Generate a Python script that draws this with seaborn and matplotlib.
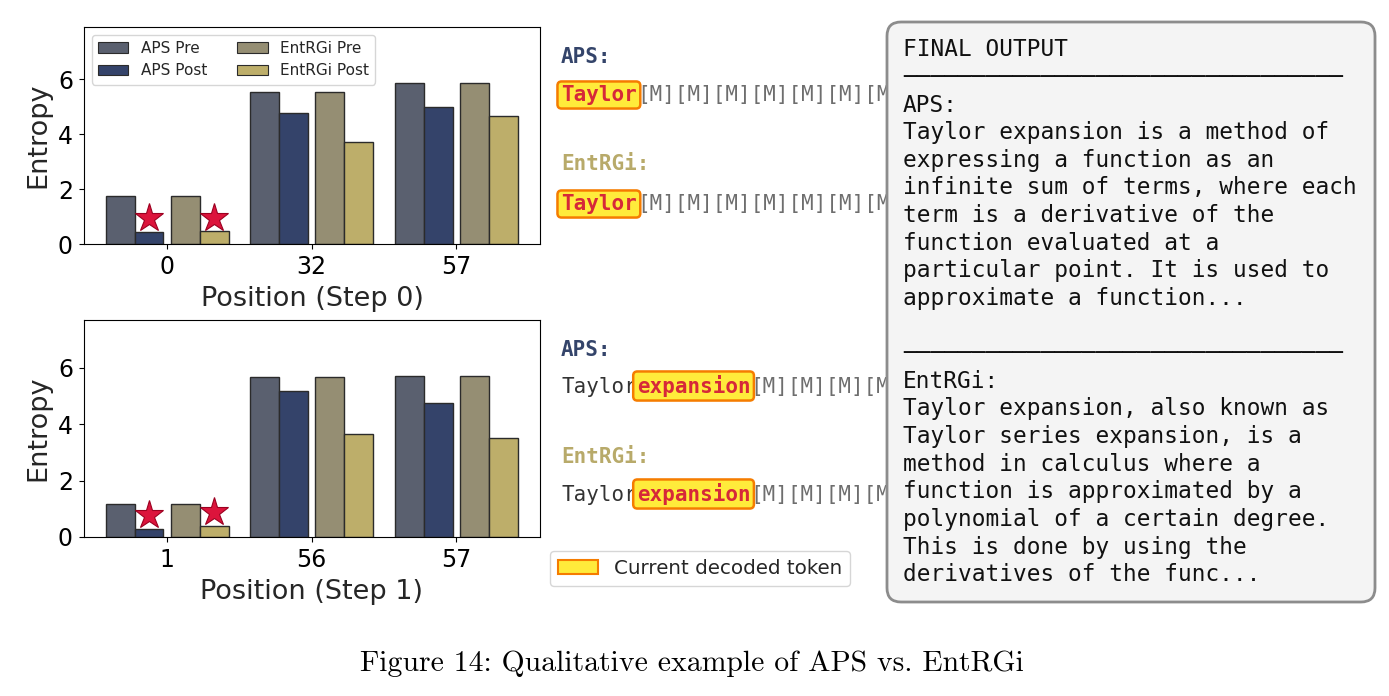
import numpy as np
import pandas as pd
import matplotlib
matplotlib.use("Agg")
import matplotlib.pyplot as plt
import seaborn as sns
from matplotlib.patches import Patch, FancyBboxPatch

# ---------------- data ----------------
series = ["APS Pre", "APS Post", "EntRGi Pre", "EntRGi Post"]

step0_positions = ["0", "32", "57"]
step0_aps_pre = [1.75, 5.52, 5.85]
step0_aps_post = [0.43, 4.78, 4.98]
step0_ent_pre = [1.75, 5.52, 5.85]
step0_ent_post = [0.46, 3.72, 4.67]

step1_positions = ["1", "56", "57"]
step1_aps_pre = [1.17, 5.66, 5.69]
step1_aps_post = [0.27, 5.18, 4.76]
step1_ent_pre = [1.17, 5.66, 5.69]
step1_ent_post = [0.40, 3.63, 3.49]

decoded_group = 0  # position decoded at each step (starred)

step0_decoded = "Taylor"
step1_prefix = "Taylor"
step1_decoded = "expansion"
mask_token = "[M]"
step0_masks_shown = 7
step1_masks_shown = 4

aps_final_lines = [
    "Taylor expansion is a method of",
    "expressing a function as an",
    "infinite sum of terms, where each",
    "term is a derivative of the",
    "function evaluated at a",
    "particular point. It is used to",
    "approximate a function...",
]
entrgi_final_lines = [
    "Taylor expansion, also known as",
    "Taylor series expansion, is a",
    "method in calculus where a",
    "function is approximated by a",
    "polynomial of a certain degree.",
    "This is done by using the",
    "derivatives of the func...",
]
caption = "Figure 14: Qualitative example of APS vs. EntRGi"

# ---------------- style ----------------
sns.set_style("ticks", {"axes.edgecolor": "black", "xtick.color": "black",
                        "ytick.color": "black", "xtick.major.size": 4,
                        "ytick.major.size": 4, "axes.linewidth": 1.0})
plt.rcParams["font.family"] = ["DejaVu Sans"]

colors = {"APS Pre": "#5a606f", "APS Post": "#34436a",
          "EntRGi Pre": "#958e73", "EntRGi Post": "#bdae6a"}
offsets = [-0.325, -0.125, 0.125, 0.325]
edge = "#2b2b2b"

W, H = 1389, 696
fig = plt.figure(figsize=(W / 100, H / 100), dpi=100)


def axes_px(l, t, r, b):
    return fig.add_axes([l / W, 1 - b / H, (r - l) / W, (b - t) / H])


def draw_panel(ax, labels, vals_list, xlabel):
    base = np.arange(len(labels))
    for name, vals, off in zip(series, vals_list, offsets):
        sns.barplot(x=base + off, y=vals, native_scale=True, width=0.2,
                    color=colors[name], saturation=1, edgecolor=edge,
                    linewidth=1.0, errorbar=None, ax=ax)
    # stars above the post-remask bars of the decoded position
    for idx in (1, 3):
        ax.plot(base[decoded_group] + offsets[idx], vals_list[idx][decoded_group] + 0.5,
                marker="*", ms=21, color="#dc143c", mec="#9b0020", mew=0.8,
                linestyle="none", zorder=5)
    allv = np.concatenate([np.asarray(v) for v in vals_list])
    ax.set_ylim(0, allv.max() * 1.35)
    ax.set_xlim(-0.575, 2.58)
    ax.set_xticks(base)
    ax.set_xticklabels(labels)
    ax.set_yticks([0, 2, 4, 6])
    ax.tick_params(labelsize=17, pad=4.5)
    ax.set_xlabel(xlabel, fontsize=19.5, labelpad=5)
    ax.set_ylabel("Entropy", fontsize=19.5, labelpad=5)
    for s in ax.spines.values():
        s.set_visible(True)


ax1 = axes_px(84, 27, 540, 244)
draw_panel(ax1, step0_positions,
           [step0_aps_pre, step0_aps_post, step0_ent_pre, step0_ent_post],
           "Position (Step 0)")
handles = [Patch(facecolor=colors[n], edgecolor=edge, linewidth=0.8, label=n) for n in series]
ax1.legend(handles=handles, loc="upper left", ncol=2, fontsize=11,
           frameon=True, framealpha=0.8)

ax2 = axes_px(84, 320, 540, 537)
draw_panel(ax2, step1_positions,
           [step1_aps_pre, step1_aps_post, step1_ent_pre, step1_ent_post],
           "Position (Step 1)")

# ---------------- overlay for text panels ----------------
ax_o = fig.add_axes([0, 0, 1, 1])
ax_o.set_xlim(0, W)
ax_o.set_ylim(H, 0)
ax_o.axis("off")
ax_o.patch.set_alpha(0)

mono = "DejaVu Sans Mono"
hl_color = "#d62839"
hl_box = dict(boxstyle="round,pad=0.17,rounding_size=0.2",
              fc="#ffeb3b", ec="#f57c00", lw=1.8)


def token_row(x, y, parts):
    prev = None
    for s, kind in parts:
        kw = dict(fontsize=15, family=mono, zorder=3)
        if kind == "hl":
            kw.update(color=hl_color, fontweight="bold", bbox=hl_box)
        elif kind == "done":
            kw.update(color="#333333")
        else:
            kw.update(color="#6e6e6e")
        if prev is None:
            prev = ax_o.text(x, y, s, va="baseline", ha="left", **kw)
        else:
            prev = ax_o.annotate(s, xy=(1, 0), xycoords=prev, va="bottom",
                                 ha="left", **kw)


def header(x, y, s, c):
    ax_o.text(x, y, s, fontsize=15, family=mono, fontweight="bold",
              color=c, va="baseline", ha="left")


aps_c = "#34446a"
ent_c = "#b8aa6a"
tx = 561
header(tx, 63, "APS:", aps_c)
token_row(tx, 101, [(step0_decoded, "hl"), (mask_token * step0_masks_shown, "m")])
header(tx, 170, "EntRGi:", ent_c)
token_row(tx, 210, [(step0_decoded, "hl"), (mask_token * step0_masks_shown, "m")])

header(tx, 356, "APS:", aps_c)
token_row(tx, 393, [(step1_prefix, "done"), (step1_decoded, "hl"),
                    (mask_token * step1_masks_shown, "m")])
header(tx, 463, "EntRGi:", ent_c)
token_row(tx, 501, [(step1_prefix, "done"), (step1_decoded, "hl"),
                    (mask_token * step1_masks_shown, "m")])

ax_o.legend(handles=[Patch(facecolor="#ffeb3b", edgecolor="#f57c00", linewidth=1.5,
                           label="Current decoded token")],
            loc="upper left", bbox_to_anchor=(550 / W, 1 - 551 / H),
            bbox_transform=fig.transFigure, borderaxespad=0, fontsize=14.3,
            handlelength=2.0, frameon=True, framealpha=0.8)

# ---------------- final output box ----------------
box = FancyBboxPatch((887, 22), 488, 580,
                     boxstyle="round,pad=0,rounding_size=14",
                     fc="#f4f4f4", ec="#8c8c8c", lw=2, zorder=5,
                     transform=ax_o.transData)
ax_o.add_patch(box)

sep = "\u2500" * 32
lines = (["FINAL OUTPUT", sep, "APS:"] + aps_final_lines + ["", sep, "EntRGi:"]
         + entrgi_final_lines)
for i, ln in enumerate(lines):
    ax_o.text(903, 56.3 + 27.63 * i, ln, fontsize=16.4, family=mono,
              color="#111111", va="baseline", ha="left", zorder=6)

# ---------------- caption ----------------
ax_o.text(692, 671, caption, fontsize=21.4, family="cmr10", color="black",
          ha="center", va="baseline")

fig.savefig("out.png", dpi=100)
